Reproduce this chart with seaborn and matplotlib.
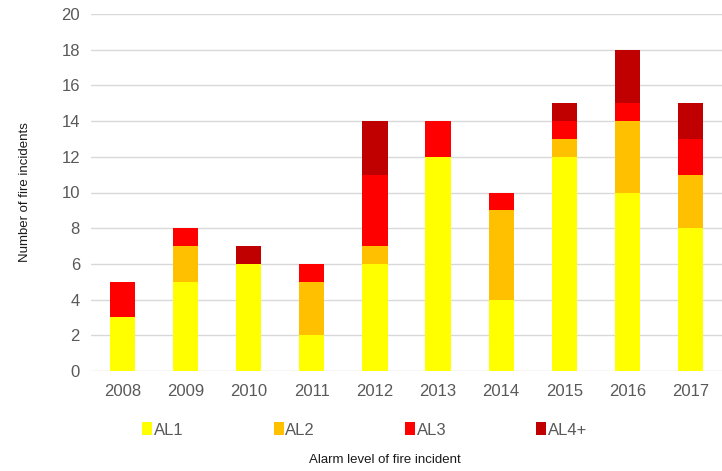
import numpy as np
import pandas as pd
import matplotlib
matplotlib.use("Agg")
import matplotlib.pyplot as plt
import seaborn as sns
from matplotlib.patches import Patch

# data
years = ["2008", "2009", "2010", "2011", "2012", "2013", "2014", "2015", "2016", "2017"]
al1 = [3, 5, 6, 2, 6, 12, 4, 12, 10, 8]
al2 = [0, 2, 0, 3, 1, 0, 5, 1, 4, 3]
al3 = [2, 1, 0, 1, 4, 2, 1, 1, 1, 2]
al4 = [0, 0, 1, 0, 3, 0, 0, 1, 3, 2]
levels = ["AL1", "AL2", "AL3", "AL4+"]
colors = ["#FFFF00", "#FFC000", "#FF0000", "#C00000"]

df = pd.DataFrame({"year": years, "AL1": al1, "AL2": al2, "AL3": al3, "AL4+": al4})

sns.set_style("white")
plt.rcParams["font.family"] = ["Liberation Sans", "DejaVu Sans"]

fig = plt.figure(figsize=(7.22, 4.71), dpi=100)
ax = fig.add_axes([91 / 722, 1 - 371 / 471, 631 / 722, 357 / 471])

bottom = np.zeros(len(years))
for lvl, col in zip(levels, colors):
    sns.barplot(data=df, x="year", y=lvl, color=col, bottom=bottom,
                width=0.4, saturation=1, ax=ax, linewidth=0, zorder=3)
    bottom = bottom + df[lvl].values

ax.set_ylim(0, 20)
ax.set_yticks(range(0, 21, 2))
ax.yaxis.grid(True, color="#D9D9D9", linewidth=1, zorder=0)
ax.set_axisbelow(True)
for s in ax.spines.values():
    s.set_visible(False)
ax.tick_params(axis="both", length=0, labelsize=12, colors="#595959", pad=9)
ax.tick_params(axis="y", pad=8)
ax.set_xlabel("")
ax.set_ylabel("Number of fire incidents", fontsize=9.5, color="#1a1a1a", labelpad=22)

handles = [Patch(facecolor=c, edgecolor="none") for c in colors]
fig.legend(handles, levels, loc="center", bbox_to_anchor=(365 / 722, 1 - 430 / 471),
           ncol=4, frameon=False, fontsize=12, handlelength=0.6, handleheight=0.8,
           handletextpad=0.1, columnspacing=5.4, labelcolor="#595959")
fig.text(385 / 722, 1 - 460 / 471, "Alarm level of fire incident", ha="center",
         va="center", fontsize=9.5, color="#1a1a1a")

fig.savefig("out.png", dpi=100)
